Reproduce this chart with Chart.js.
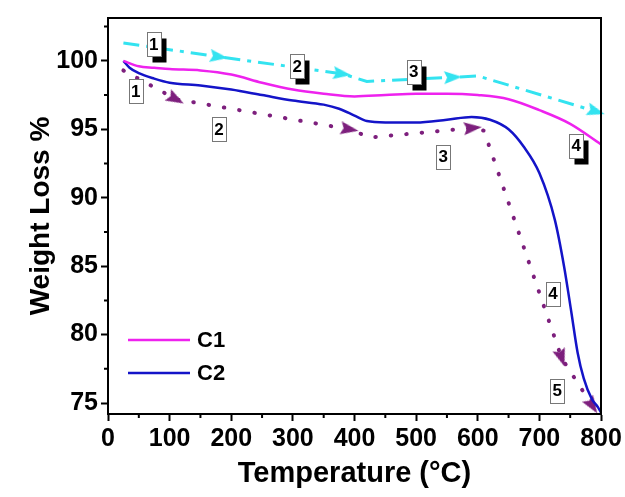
<!DOCTYPE html>
<html>
<head>
<meta charset="utf-8">
<script src="https://cdn.jsdelivr.net/npm/chart.js@4.4.1/dist/chart.umd.min.js"></script>
<style>
  html, body { margin: 0; padding: 0; background: #fff; }
  #wrap { width: 625px; height: 497px; }
</style>
</head>
<body>
<div id="wrap"><canvas id="tga"></canvas></div>
<script>
// TGA curves (temperature in degC, weight %)
const tempC1 = [25, 50, 75, 100, 150, 200, 250, 300, 350, 400, 450, 500, 550, 600, 650, 700, 750, 800];
const lossC1 = [100.0, 99.6, 99.5, 99.4, 99.3, 99.0, 98.4, 97.9, 97.6, 97.4, 97.5, 97.6, 97.6, 97.5, 97.2, 96.4, 95.4, 93.9];

const tempC2 = [25, 35, 50, 75, 100, 150, 200, 250, 300, 350, 375, 400, 420, 450, 500, 550, 590, 620, 650, 675, 700, 725, 740, 752, 762, 772, 785, 795, 800];
const lossC2 = [100.0, 99.5, 99.1, 98.7, 98.4, 98.2, 97.9, 97.5, 97.1, 96.8, 96.5, 96.0, 95.6, 95.5, 95.5, 95.7, 95.9, 95.7, 95.0, 93.7, 91.8, 88.4, 85.0, 81.6, 78.7, 76.8, 75.3, 74.7, 74.3];

// decomposition-step arrows (1 = arrow head at that point)
const stepC1T = [25, 180, 380, 420, 560, 600, 792];
const stepC1W = [101.3, 100.3, 99.05, 98.5, 98.8, 98.9, 96.3];
const stepC1Head = [0, 1, 1, 0, 1, 0, 1];

const stepC2T = [25, 110, 392, 425, 592, 610, 736, 786];
const stepC2W = [99.3, 97.2, 95.0, 94.4, 95.1, 94.9, 78.3, 74.8];
const stepC2Head = [0, 1, 1, 0, 1, 0, 1, 1];

// numbered step boxes
const boxC1Text = ['1', '2', '3', '4'];
const boxC1T = [74, 307, 496, 760];
const boxC1W = [101.2, 99.6, 99.2, 93.8];

const boxC2Text = ['1', '2', '3', '4', '5'];
const boxC2T = [45, 180, 544, 722, 729];
const boxC2W = [97.8, 95.0, 93.0, 83.0, 75.9];

const xTicks = [0, 100, 200, 300, 400, 500, 600, 700, 800];
const yTicks = [75, 80, 85, 90, 95, 100];
const xMinor = [50, 150, 250, 350, 450, 550, 650, 750];
const yMinor = [77.5, 82.5, 87.5, 92.5, 97.5, 102.5];

const FONT = '"Liberation Sans", Arial, sans-serif';

function pts(xs, ys) {
  return xs.map((x, i) => ({ x: x, y: ys[i] }));
}

// small arrow head image, pointing up; chart.js rotates it per point
function arrowHead(color) {
  const cv = document.createElement('canvas');
  cv.width = 13;
  cv.height = 18;
  const g = cv.getContext('2d');
  g.fillStyle = color;
  g.beginPath();
  g.moveTo(6.5, 0);
  g.lineTo(13, 18);
  g.lineTo(6.5, 15);
  g.lineTo(0, 18);
  g.closePath();
  g.fill();
  return cv;
}

// rotate the head so it points along the segment coming into it
function headAngle(ctx, xs, ys) {
  const i = ctx.dataIndex;
  if (!i) return 0;
  const sx = ctx.chart.scales.x, sy = ctx.chart.scales.y;
  const dx = sx.getPixelForValue(xs[i]) - sx.getPixelForValue(xs[i - 1]);
  const dy = sy.getPixelForValue(ys[i]) - sy.getPixelForValue(ys[i - 1]);
  return Math.atan2(dx, -dy) * 180 / Math.PI;
}

const extras = {
  id: 'extras',
  afterDatasetsDraw(chart) {
    const c = chart.ctx;
    const a = chart.chartArea;
    const sx = chart.scales.x, sy = chart.scales.y;
    c.save();

    // frame
    c.strokeStyle = '#000';
    c.lineWidth = 2;
    c.strokeRect(a.left, a.top, a.right - a.left, a.bottom - a.top);

    // minor ticks
    c.beginPath();
    xMinor.forEach(v => {
      const px = sx.getPixelForValue(v);
      c.moveTo(px, a.bottom);
      c.lineTo(px, a.bottom + 4);
    });
    yMinor.forEach(v => {
      const py = sy.getPixelForValue(v);
      c.moveTo(a.left, py);
      c.lineTo(a.left - 4, py);
    });
    c.stroke();

    // step boxes
    function box(t, w, txt, shadow) {
      const px = sx.getPixelForValue(t), py = sy.getPixelForValue(w);
      const bw = 14, bh = 24;
      const x0 = Math.round(px - bw / 2) + 0.5, y0 = Math.round(py - bh / 2) + 0.5;
      if (shadow) {
        c.fillStyle = '#000';
        c.fillRect(x0 + 5, y0 + 6, bw, bh);
      }
      c.fillStyle = '#fff';
      c.fillRect(x0, y0, bw, bh);
      c.strokeStyle = '#777';
      c.lineWidth = 1;
      c.strokeRect(x0, y0, bw, bh);
      c.fillStyle = '#000';
      c.font = 'bold 17px ' + FONT;
      c.textAlign = 'center';
      c.textBaseline = 'middle';
      c.fillText(txt, px, py + 1);
    }
    boxC1Text.forEach((s, i) => box(boxC1T[i], boxC1W[i], s, true));
    boxC2Text.forEach((s, i) => box(boxC2T[i], boxC2W[i], s, false));

    // legend inside the plot, lower left
    const lx = a.left + 20;
    [0, 1].forEach(k => {
      const ds = chart.data.datasets[k];
      const ly = a.top + 322 + k * 33;
      c.strokeStyle = ds.borderColor;
      c.lineWidth = 2.5;
      c.beginPath();
      c.moveTo(lx, ly);
      c.lineTo(lx + 62, ly);
      c.stroke();
      c.fillStyle = '#000';
      c.font = 'bold 22px ' + FONT;
      c.textAlign = 'left';
      c.textBaseline = 'middle';
      c.fillText(ds.label, lx + 69, ly + 1);
    });

    c.restore();
  }
};

new Chart(document.getElementById('tga'), {
  type: 'line',
  data: {
    datasets: [
      {
        label: 'C1',
        data: pts(tempC1, lossC1),
        borderColor: '#ee22ee',
        borderWidth: 2.5,
        pointRadius: 0,
        cubicInterpolationMode: 'monotone',
        order: 0
      },
      {
        label: 'C2',
        data: pts(tempC2, lossC2),
        borderColor: '#1414c8',
        borderWidth: 2.5,
        pointRadius: 0,
        cubicInterpolationMode: 'monotone',
        order: 1
      },
      {
        label: 'steps C1',
        data: pts(stepC1T, stepC1W),
        borderColor: '#33e3f0',
        borderWidth: 3,
        borderDash: [16, 7, 4, 7],
        tension: 0,
        pointStyle: arrowHead('#33e3f0'),
        pointRadius: stepC1Head.map(h => h ? 8 : 0),
        pointRotation: ctx => headAngle(ctx, stepC1T, stepC1W),
        clip: 10,
        order: 2
      },
      {
        label: 'steps C2',
        data: pts(stepC2T, stepC2W),
        borderColor: '#7d1f7d',
        borderWidth: 4,
        borderDash: [0.5, 15],
        borderCapStyle: 'round',
        tension: 0,
        pointStyle: arrowHead('#7d1f7d'),
        pointRadius: stepC2Head.map(h => h ? 8 : 0),
        pointRotation: ctx => headAngle(ctx, stepC2T, stepC2W),
        clip: 10,
        order: 3
      }
    ]
  },
  options: {
    responsive: true,
    maintainAspectRatio: false,
    animation: false,
    layout: { padding: { top: 17, right: 24, left: 0, bottom: 0 } },
    plugins: {
      legend: { display: false },
      tooltip: { enabled: false }
    },
    scales: {
      x: {
        type: 'linear',
        min: 0,
        max: 800,
        afterBuildTicks: s => { s.ticks = xTicks.map(v => ({ value: v })); },
        afterFit: s => { s.height = 83; },
        border: { display: true, color: '#000', width: 2 },
        grid: { drawOnChartArea: false, tickLength: 7, tickColor: '#000', tickWidth: 2 },
        ticks: { color: '#000', padding: 3, maxRotation: 0, font: { family: FONT, size: 25, weight: 'bold' } },
        title: {
          display: true,
          text: 'Temperature (°C)',
          color: '#000',
          padding: { top: 0, bottom: 6 },
          font: { family: FONT, size: 29, weight: 'bold' }
        }
      },
      y: {
        type: 'linear',
        min: 74.2,
        max: 103.13,
        afterBuildTicks: s => { s.ticks = yTicks.map(v => ({ value: v })); },
        afterFit: s => { s.width = 108; },
        border: { display: true, color: '#000', width: 2 },
        grid: { drawOnChartArea: false, tickLength: 7, tickColor: '#000', tickWidth: 2 },
        ticks: { color: '#000', padding: 3, font: { family: FONT, size: 25, weight: 'bold' } },
        title: {
          display: true,
          text: 'Weight Loss %',
          color: '#000',
          padding: { top: 24, bottom: 0 },
          font: { family: FONT, size: 28, weight: 'bold' }
        }
      }
    }
  },
  plugins: [extras]
});
</script>
</body>
</html>
